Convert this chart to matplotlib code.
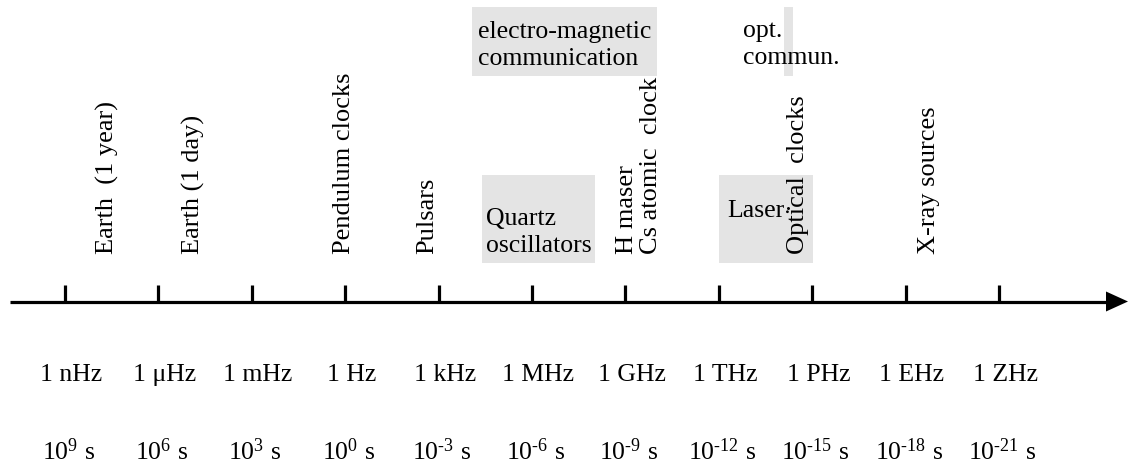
import matplotlib
matplotlib.use("Agg")
import matplotlib.pyplot as plt
from matplotlib.patches import Rectangle, Polygon

plt.rcParams['font.family'] = ['Liberation Serif', 'DejaVu Serif']
plt.rcParams['mathtext.fontset'] = 'custom'
plt.rcParams['mathtext.rm'] = 'Liberation Serif'
plt.rcParams['mathtext.it'] = 'Liberation Serif:italic'

# ---- data (x in log10 of frequency / Hz) ----
tick_log_freq = [-9, -6, -3, 0, 3, 6, 9, 12, 15, 18, 21]
freq_labels = ["1 nHz", "1 \u03bcHz", "1 mHz", "1 Hz", "1 kHz", "1 MHz",
               "1 GHz", "1 THz", "1 PHz", "1 EHz", "1 ZHz"]
period_exponents = ["9", "6", "3", "0", "-3", "-6", "-9", "-12", "-15", "-18", "-21"]

source_names = ["Earth  (1 year)", "Earth (1 day)", "Pendulum clocks", "Pulsars",
                "H maser", "Cs atomic  clock", "Optical  clocks", "X-ray sources"]
source_log_freq = [-7.65, -4.89, -0.05, 2.63, 9.05, 9.82, 14.55, 18.75]

band_lines = [["electro-magnetic", "communication"], ["Quartz", "oscillators"],
              ["Laser\u00b7"], ["opt.", "commun."]]
band_start = [4.07, 4.40, 12.01, 14.10]
band_end = [10.02, 8.03, 15.03, 14.39]
band_text_x = [4.27, 4.52, 12.27, 12.78]

# ---- layout ----
W, H = 1129, 467
fig = plt.figure(figsize=(W / 100, H / 100), dpi=100)
ax = fig.add_axes([0, 0, 1, 1])
px_per_unit = 93.4 / 3.0
x0 = -9 - 65 / px_per_unit
x1 = x0 + W / px_per_unit
ax.set_xlim(x0, x1)
ax.set_ylim(H, 0)
ax.axis('off')

def px(p):
    return x0 + p / px_per_unit

fs = 18.5
fs_rot = 19
axis_y = 301.5
lw = 2.3

# axis line with arrow
ax.plot([px(10), px(1110)], [axis_y, axis_y], color='black', lw=lw, solid_capstyle='butt')
ax.add_patch(Polygon([[px(1106), axis_y - 10], [px(1128), axis_y], [px(1106), axis_y + 10]],
                     closed=True, color='black', lw=0))

# ticks
for xt in tick_log_freq:
    ax.plot([xt, xt], [285, axis_y], color='black', lw=lw, solid_capstyle='butt')

# band boxes
box_y = [(7, 76), (175, 263), (175, 263), (7, 76)]
first_baseline = [38, 225, 217, 37]
for lines, s, e, tx, (y_top, y_bot), b0 in zip(band_lines, band_start, band_end,
                                               band_text_x, box_y, first_baseline):
    ax.add_patch(Rectangle((s, y_top), e - s, y_bot - y_top, facecolor='#e4e4e4',
                           edgecolor='none', zorder=0))
    for k, line in enumerate(lines):
        ax.text(tx, b0 + 27 * k, line, fontsize=fs, ha='left', va='baseline')

# rotated source labels
for name, xf in zip(source_names, source_log_freq):
    ax.text(xf, 254, name, fontsize=fs_rot, rotation=90, ha='center', va='bottom')

# frequency labels
for xt, lab in zip(tick_log_freq, freq_labels):
    ax.text(xt + 0.2, 381, lab, fontsize=fs, ha='center', va='baseline')

# period labels
for xt, ex in zip(tick_log_freq, period_exponents):
    ex_txt = ex.replace("-", "\u2010")
    ax.text(xt + 0.1, 460, r"10$^{\mathrm{%s}}$ s" % ex_txt, fontsize=fs,
            ha='center', va='baseline')

fig.savefig("out.png", dpi=100, facecolor='white')
